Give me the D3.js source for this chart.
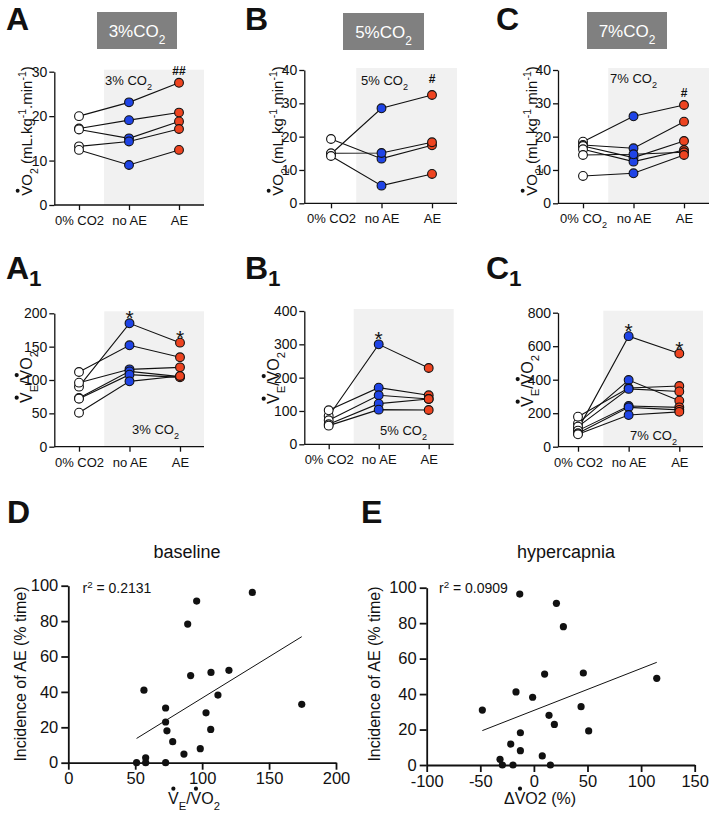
<!DOCTYPE html>
<html><head><meta charset="utf-8">
<script src="https://cdn.jsdelivr.net/npm/d3@7"></script>
<style>html,body{margin:0;padding:0;background:#fff;}svg{display:block;}</style>
</head><body>
<svg id="fig" width="709" height="814"></svg>
<script>
// ---------------- DATA ----------------
const categories = ["0% CO2", "no AE", "AE"];
const categoriesC = ["0% CO_{2}", "no AE", "AE"];

// VO2 (mL.kg-1.min-1), panel A (3% CO2)
const vo2_3_base = [20.0, 17.2, 17.0, 13.2, 12.4];
const vo2_3_noAE = [23.1, 19.1, 15.0, 14.3, 9.0];
const vo2_3_AE   = [27.5, 20.8, 18.8, 17.1, 12.4];
// panel B (5% CO2)
const vo2_5_base = [14.8, 19.3, 15.0, 14.2];
const vo2_5_noAE = [28.5, 13.4, 15.1, 5.3];
const vo2_5_AE   = [32.5, 17.4, 18.3, 8.8];
// panel C (7% CO2)
const vo2_7_base = [18.5, 17.5, 17.2, 16.2, 14.5, 8.2];
const vo2_7_noAE = [26.1, 16.5, 13.7, 12.5, 14.7, 9.0];
const vo2_7_AE   = [29.5, 24.5, 18.7, 16.0, 15.3, 14.5];

// VE/VO2, panel A1 (3% CO2)
const ve_3_base = [90, 112, 96, 73, 72, 51];
const ve_3_noAE = [185, 152, 116, 113, 108, 98];
const ve_3_AE   = [156, 134, 119, 105, 104, 106];
// panel B1 (5% CO2)
const ve_5_base = [85, 102, 72, 60, 56];
const ve_5_noAE = [300, 170, 147, 122, 104];
const ve_5_AE   = [229, 147, 136, 136, 103];
// panel C1 (7% CO2)
const ve_7_base = [105, 139, 179, 120, 96, 80, 74];
const ve_7_noAE = [660, 398, 350, 345, 243, 235, 189];
const ve_7_AE   = [556, 275, 362, 330, 235, 220, 208];

const ticksVO2_30 = [0, 10, 20, 30];
const ticksVO2_40 = [0, 10, 20, 30, 40];
const ticksVE_200 = [0, 50, 100, 150, 200];
const ticksVE_400 = [0, 100, 200, 300, 400];
const ticksVE_800 = [0, 200, 400, 600, 800];

// D: baseline scatter
const baseVE  = [51, 57.8, 57.8, 56.5, 72.7, 72.7, 72.7, 73.7, 78, 86.4, 89.2, 91.4, 95.9, 98.6, 102.9, 106.4, 106.6, 111.8, 120, 137.5, 174.4];
const baseInc = [0, 2.8, 0, 41, 0, 30.9, 23, 18, 11.9, 4.9, 78.3, 49.2, 91.3, 7.9, 28.2, 18.8, 51, 38.2, 52.2, 96.2, 33];
const fitD_x = [51, 174.4];
const fitD_y = [13.7, 71.2];
// E: hypercapnia scatter
const hypDVO2 = [-48.1, -31.6, -29.4, -19.5, -21.6, -16.7, -13.2, -12.6, -12.6, -1.2, 7.8, 10, 14.1, 15.4, 19.1, 21, 27.5, 44, 46.1, 51.1, 114.6];
const hypInc  = [31, 3.2, 0, 0, 11.8, 41.2, 96.4, 18.2, 8.1, 38.2, 5.1, 51.3, 28, 0, 22.9, 91.2, 78, 32.9, 51.9, 19.2, 48.9];
const fitE_x = [-48.1, 114.6];
const fitE_y = [19.4, 57.9];
const ticksD_x = [0, 50, 100, 150, 200];
const ticksE_x = [-100, -50, 0, 50, 100, 150];
const ticksInc = [0, 20, 40, 60, 80, 100];

// ---------------- STYLE ----------------
const FONT = "'Liberation Sans', Arial, Helvetica, sans-serif";
const BLUE = "#1f44e6";
const RED = "#ee4420";
const SHADE = "#f1f1f1";
const BOXGRAY = "#808080";

const svg = d3.select("#fig").attr("font-family", FONT);

// rich text: _{sub}, ^{sup}, combining dot (\u0307) -> drawn dot
function rich(textSel, str, subShift) {
  const re = /_\{([^}]*)\}|\^\{([^}]*)\}|([^_^]+)/g;
  let m, idx = 0; const dots = [];
  while ((m = re.exec(str))) {
    const type = m[1] !== undefined ? "sub" : (m[2] !== undefined ? "sup" : "n");
    const s = m[1] ?? m[2] ?? m[3];
    let clean = "";
    for (const ch of s) {
      if (ch === "\u0307") dots.push(idx - 1);
      else { clean += ch; idx++; }
    }
    const ts = textSel.append("tspan").text(clean);
    if (type === "sub") ts.attr("baseline-shift", subShift || "sub").attr("font-size", "70%");
    if (type === "sup") ts.attr("baseline-shift", "super").attr("font-size", "70%");
  }
  return dots;
}

function label(parent, o) {
  const g = parent.append("g").attr("transform", `translate(${o.x},${o.y}) rotate(${o.rotate || 0})`);
  const t = g.append("text").attr("x", 0).attr("y", 0)
    .attr("text-anchor", o.anchor || "middle")
    .attr("font-size", o.fs)
    .attr("font-weight", o.weight || "normal")
    .attr("fill", o.fill || "#111");
  const dots = rich(t, o.str, o.subShift);
  dots.forEach(i => {
    const ext = t.node().getExtentOfChar(i);
    g.append("circle")
      .attr("cx", ext.x + ext.width / 2)
      .attr("cy", -0.716 * o.fs - 0.24 * o.fs)
      .attr("r", 0.13 * o.fs)
      .attr("fill", o.fill || "#111");
  });
  return g;
}

// ---------------- PAIRED PANELS ----------------
function paired(cfg) {
  const g = svg.append("g");
  const y = d3.scaleLinear().domain([0, cfg.yMax]).range([cfg.yBot, cfg.yTop]);
  const x = d3.scalePoint().domain(categories).range([cfg.cat0, cfg.cat2]);
  // shaded region
  const shadeX = (x(categories[0]) + x(categories[1])) / 2;
  g.append("rect")
    .attr("x", shadeX)
    .attr("y", cfg.yTop - 2)
    .attr("width", cfg.axisEnd - shadeX)
    .attr("height", cfg.yBot - cfg.yTop + 2)
    .attr("fill", SHADE);

  // y axis
  const ya = g.append("g").attr("transform", `translate(${cfg.axisX},0)`)
    .call(d3.axisLeft(y).tickValues(cfg.ticks).tickSize(5).tickPadding(2).tickSizeOuter(0));
  ya.selectAll("path,line").attr("stroke", "#111").attr("stroke-width", 1.3);
  ya.selectAll("text").attr("font-family", FONT).attr("font-size", 14).attr("fill", "#111");
  ya.attr("font-family", FONT);

  // x axis
  const xa = g.append("g").attr("transform", `translate(0,${cfg.yBot})`)
    .call(d3.axisBottom(x).tickSize(5).tickPadding(2).tickSizeOuter(0));
  xa.select(".domain").remove();
  xa.selectAll("line").attr("stroke", "#111").attr("stroke-width", 1.3);
  xa.attr("font-family", FONT);
  const tickLabels = cfg.tickLabels;
  xa.selectAll(".tick text").each(function(d, i) {
    const t = d3.select(this);
    t.text(null).attr("font-family", FONT).attr("font-size", 13).attr("fill", "#111").attr("dy", "1.0em");
    rich(t, tickLabels[i]);
  });
  g.append("line").attr("x1", cfg.axisX).attr("x2", cfg.axisEnd)
    .attr("y1", cfg.yBot).attr("y2", cfg.yBot).attr("stroke", "#111").attr("stroke-width", 1.3);

  // subjects
  const n = cfg.base.length;
  const subjects = d3.range(n).map(i => [cfg.base[i], cfg.noAE[i], cfg.AE[i]]);
  const line = d3.line().x((d, j) => x(categories[j])).y(d => y(d));
  g.append("g").selectAll("path").data(subjects).join("path")
    .attr("d", line).attr("fill", "none").attr("stroke", "#111").attr("stroke-width", 1.1);
  const fills = ["#ffffff", BLUE, RED];
  const pts = [];
  subjects.forEach(s => s.forEach((v, j) => pts.push({ v, j })));
  g.append("g").selectAll("circle").data(pts).join("circle")
    .attr("cx", d => x(categories[d.j])).attr("cy", d => y(d.v))
    .attr("r", 4.4).attr("fill", d => fills[d.j]).attr("stroke", "#111").attr("stroke-width", 1.1);

  // condition annotation
  label(g, { x: cfg.condX, y: cfg.condY, str: cfg.cond, fs: 13, anchor: "start" });
  // significance marks
  (cfg.marks || []).forEach(mk => {
    const xx = x(categories[mk.cat]);
    if (mk.type === "star") {
      g.append("text").attr("x", xx).attr("y", y(d3.max(cfg[mk.key])) + 2)
        .attr("text-anchor", "middle").attr("font-size", 21).attr("fill", "#111").text("*");
    } else {
      g.append("text").attr("x", xx).attr("y", mk.y)
        .attr("text-anchor", "middle").attr("font-size", 12).attr("font-weight", "bold").attr("fill", "#111").text(mk.text);
    }
  });
  // y label
  label(g, { x: cfg.ylabX, y: cfg.ylabY, rotate: -90, str: cfg.ylab, fs: cfg.ylabFs });
  // panel letter
  label(g, { x: cfg.letterX, y: cfg.letterY, str: cfg.letter, fs: 32, weight: "bold", anchor: "start", subShift: "-7px" });
  // title box
  if (cfg.box) {
    g.append("rect").attr("x", cfg.box[0]).attr("y", cfg.box[1]).attr("width", cfg.box[2]).attr("height", cfg.box[3]).attr("fill", BOXGRAY);
    label(g, { x: cfg.box[0] + cfg.box[2] / 2, y: cfg.box[1] + 25, str: cfg.boxText, fs: 17, fill: "#fff" });
  }
}

const VO2LAB = "V\u0307O_{2} (mL.kg^{-1}.min^{-1})";
const VELAB = "V\u0307_{E}/V\u0307O_{2}";

paired({ letter: "A", letterX: 6, letterY: 30, box: [97, 12, 80, 37], boxText: "3%CO_{2}",
  axisX: 54.3, cat0: 79, cat2: 179, axisEnd: 204, yTop: 71.7, yBot: 205, yMax: 30, ticks: ticksVO2_30,
  base: vo2_3_base, noAE: vo2_3_noAE, AE: vo2_3_AE, tickLabels: categories,
  cond: "3% CO_{2}", condX: 105, condY: 85, marks: [{ type: "hash", cat: 2, text: "##", y: 75 }],
  ylab: VO2LAB, ylabX: 32, ylabY: 131, ylabFs: 15 });
paired({ letter: "B", letterX: 245, letterY: 30, box: [343, 13, 81, 37], boxText: "5%CO_{2}",
  axisX: 304.3, cat0: 331, cat2: 432, axisEnd: 457, yTop: 70, yBot: 203.3, yMax: 40, ticks: ticksVO2_40,
  base: vo2_5_base, noAE: vo2_5_noAE, AE: vo2_5_AE, tickLabels: categories,
  cond: "5% CO_{2}", condX: 361, condY: 85, marks: [{ type: "hash", cat: 2, text: "#", y: 83 }],
  ylab: VO2LAB, ylabX: 283, ylabY: 131, ylabFs: 15 });
paired({ letter: "C", letterX: 496, letterY: 30, box: [587, 12, 80, 37], boxText: "7%CO_{2}",
  axisX: 558, cat0: 583, cat2: 684, axisEnd: 709, yTop: 70, yBot: 203.3, yMax: 40, ticks: ticksVO2_40,
  base: vo2_7_base, noAE: vo2_7_noAE, AE: vo2_7_AE, tickLabels: categoriesC,
  cond: "7% CO_{2}", condX: 610, condY: 83, marks: [{ type: "hash", cat: 2, text: "#", y: 97 }],
  ylab: VO2LAB, ylabX: 537, ylabY: 131, ylabFs: 15 });

paired({ letter: "A_{1}", letterX: 6, letterY: 279,
  axisX: 54.3, cat0: 79, cat2: 180, axisEnd: 204, yTop: 313.3, yBot: 446.7, yMax: 200, ticks: ticksVE_200,
  base: ve_3_base, noAE: ve_3_noAE, AE: ve_3_AE, tickLabels: categories,
  cond: "3% CO_{2}", condX: 132, condY: 434,
  marks: [{ type: "star", cat: 1, key: "noAE" }, { type: "star", cat: 2, key: "AE" }],
  ylab: VELAB, ylabX: 32, ylabY: 377, ylabFs: 16 });
paired({ letter: "B_{1}", letterX: 245, letterY: 279,
  axisX: 304.3, cat0: 328.7, cat2: 428.7, axisEnd: 453.7, yTop: 311, yBot: 444.3, yMax: 400, ticks: ticksVE_400,
  base: ve_5_base, noAE: ve_5_noAE, AE: ve_5_AE, tickLabels: categories,
  cond: "5% CO_{2}", condX: 380, condY: 435,
  marks: [{ type: "star", cat: 1, key: "noAE" }],
  ylab: VELAB, ylabX: 279, ylabY: 378, ylabFs: 16 });
paired({ letter: "C_{1}", letterX: 486, letterY: 279,
  axisX: 558, cat0: 578, cat2: 679.3, axisEnd: 703, yTop: 312.7, yBot: 446.7, yMax: 800, ticks: ticksVE_800,
  base: ve_7_base, noAE: ve_7_noAE, AE: ve_7_AE, tickLabels: categories,
  cond: "7% CO_{2}", condX: 630, condY: 440,
  marks: [{ type: "star", cat: 1, key: "noAE" }, { type: "star", cat: 2, key: "AE" }],
  ylab: VELAB, ylabX: 533, ylabY: 381, ylabFs: 16 });

// ---------------- SCATTER PANELS ----------------
function scatter(cfg) {
  const g = svg.append("g");
  const x = d3.scaleLinear().domain(cfg.xDom).range([cfg.x0, cfg.x1]);
  const y = d3.scaleLinear().domain([0, 100]).range([cfg.y0, cfg.y1]);
  const xa = g.append("g").attr("transform", `translate(0,${cfg.y0})`)
    .call(d3.axisBottom(x).tickValues(cfg.xTicks).tickSize(7).tickPadding(3).tickSizeOuter(0).tickFormat(d3.format("d")));
  const ya = g.append("g").attr("transform", `translate(${cfg.x0},0)`)
    .call(d3.axisLeft(y).tickValues(ticksInc).tickSize(7).tickPadding(3).tickSizeOuter(0));
  [xa, ya].forEach(a => {
    a.selectAll("path,line").attr("stroke", "#111").attr("stroke-width", 1.8);
    a.selectAll("text").attr("font-family", FONT).attr("font-size", 16.5).attr("fill", "#111");
  });
  xa.selectAll("text").text(d => d < 0 ? "-" + Math.abs(d) : d);
  // regression line
  g.append("line").attr("x1", x(cfg.fitX[0])).attr("y1", y(cfg.fitY[0]))
    .attr("x2", x(cfg.fitX[1])).attr("y2", y(cfg.fitY[1]))
    .attr("stroke", "#111").attr("stroke-width", 1);
  g.append("g").selectAll("circle").data(cfg.xs.map((v, i) => [v, cfg.ys[i]])).join("circle")
    .attr("cx", d => x(d[0])).attr("cy", d => y(d[1])).attr("r", 3.6).attr("fill", "#111");
  // texts
  g.append("text").attr("x", cfg.titleX).attr("y", 558).attr("text-anchor", "middle")
    .attr("font-size", 18).attr("fill", "#111").text(cfg.title);
  label(g, { x: cfg.rX, y: 593, str: cfg.r2, fs: 14, anchor: "start" });
  label(g, { x: cfg.ylabX, y: 674, rotate: -90, str: "Incidence of AE (% time)", fs: 16 });
  label(g, { x: cfg.xlabX, y: 804, str: cfg.xlab, fs: 16 });
  label(g, { x: cfg.letterX, y: 523, str: cfg.letter, fs: 32, weight: "bold", anchor: "start" });
}

scatter({ letter: "D", letterX: 7, xDom: [0, 200], x0: 68.3, x1: 336, y0: 762.7, y1: 585.7,
  xTicks: ticksD_x, xs: baseVE, ys: baseInc, fitX: fitD_x, fitY: fitD_y,
  title: "baseline", titleX: 187, r2: "r^{2} = 0.2131", rX: 82.5,
  ylabX: 26, xlab: "V\u0307_{E}/V\u0307O_{2}", xlabX: 194 });
scatter({ letter: "E", letterX: 361, xDom: [-100, 150], x0: 426.7, x1: 694.7, y0: 765, y1: 587.7,
  xTicks: ticksE_x, xs: hypDVO2, ys: hypInc, fitX: fitE_x, fitY: fitE_y,
  title: "hypercapnia", titleX: 566, r2: "r^{2} = 0.0909", rX: 439,
  ylabX: 380, xlab: "\u0394V\u0307O2 (%)", xlabX: 540 });
</script>
</body></html>
